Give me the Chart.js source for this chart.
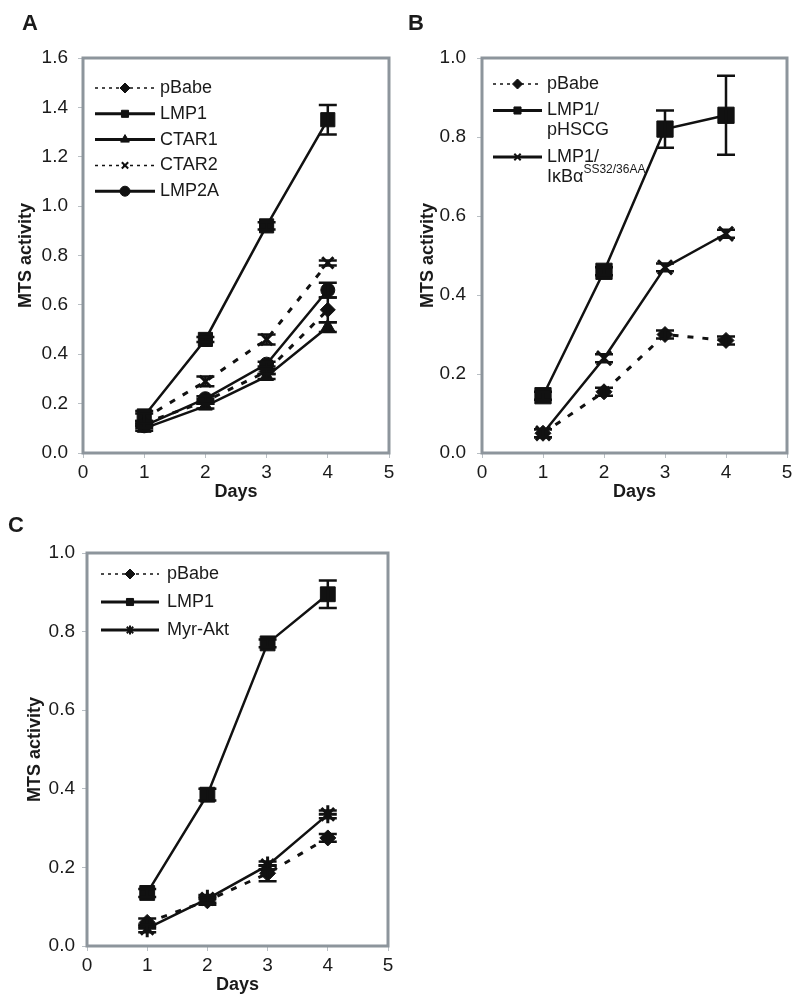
<!DOCTYPE html>
<html lang="en">
<head>
<meta charset="UTF-8">
<title>MTS activity</title>
<style>
  body { margin: 0; background: #fff; width: 800px; height: 1003px; position: relative; overflow: hidden; }
  .panel { position: absolute; }
  .letter { position: absolute; font: bold 22px "Liberation Sans", Arial, sans-serif; line-height: 22px; color: #1a1a1a; }
</style>
</head>
<body>
<div class="panel" style="left:0;top:0;width:400px;height:503px"><canvas id="chartA"></canvas></div>
<div class="panel" style="left:400px;top:0;width:400px;height:503px"><canvas id="chartB"></canvas></div>
<div class="panel" style="left:0;top:500px;width:400px;height:503px"><canvas id="chartC"></canvas></div>
<div class="letter" style="left:22px;top:12px">A</div>
<div class="letter" style="left:408px;top:12px">B</div>
<div class="letter" style="left:8px;top:514px">C</div>

<script src="https://cdn.jsdelivr.net/npm/chart.js"></script>
<script>
    const days = [1, 2, 3, 4];

    // panel A
    const aPBabe = [0.12, 0.21, 0.33, 0.58];
    const aPBabeErr = [0.01, 0.01, 0.01, 0.05];
    const aLMP1 = [0.15, 0.46, 0.92, 1.35];
    const aLMP1Err = [0.02, 0.01, 0.015, 0.06];
    const aCTAR1 = [0.10, 0.19, 0.31, 0.51];
    const aCTAR1Err = [0.01, 0.01, 0.01, 0.02];
    const aCTAR2 = [0.14, 0.29, 0.46, 0.77];
    const aCTAR2Err = [0.02, 0.02, 0.02, 0.01];
    const aLMP2A = [0.11, 0.22, 0.36, 0.66];
    const aLMP2AErr = [0.01, 0.01, 0.01, 0.03];

    // panel B
    const bPBabe = [0.05, 0.155, 0.30, 0.285];
    const bPBabeErr = [0.01, 0.01, 0.01, 0.01];
    const bHSCG = [0.145, 0.46, 0.82, 0.855];
    const bHSCGErr = [0.01, 0.01, 0.047, 0.10];
    const bIkB = [0.05, 0.24, 0.47, 0.555];
    const bIkBErr = [0.01, 0.01, 0.01, 0.01];

    // panel C
    const cPBabe = [0.06, 0.115, 0.185, 0.275];
    const cPBabeErr = [0.01, 0.01, 0.02, 0.01];
    const cLMP1 = [0.135, 0.385, 0.77, 0.895];
    const cLMP1Err = [0.01, 0.015, 0.01, 0.035];
    const cAkt = [0.045, 0.12, 0.205, 0.335];
    const cAktErr = [0.01, 0.01, 0.01, 0.01];

    const INK = '#111';
    const TEXT = '#1a1a1a';
    Chart.defaults.font.family = '"Liberation Sans", Arial, sans-serif';
    Chart.defaults.color = TEXT;

    function isCross(style) {
        return style === 'crossRot' || style === 'star';
    }

    function series(label, values, errors, style, radius, dotted) {
        return {
            label: label,
            data: values.map((v, i) => ({x: days[i], y: v})),
            errors: errors,
            borderColor: INK,
            borderWidth: dotted ? 3 : 2.5,
            borderDash: dotted ? [6, 9] : [],
            dotted: dotted,
            tension: 0,
            pointStyle: style,
            pointRadius: radius,
            pointHoverRadius: radius,
            pointBackgroundColor: INK,
            pointBorderColor: INK,
            pointBorderWidth: isCross(style) ? 3 : 1
        };
    }

    // grey box round the plot area
    const frame = {
        id: 'frame',
        beforeDatasetsDraw(chart) {
            const {ctx, chartArea: a} = chart;
            ctx.save();
            ctx.strokeStyle = '#8d959c';
            ctx.lineWidth = 3;
            ctx.strokeRect(a.left, a.top, a.right - a.left, a.bottom - a.top);
            ctx.restore();
        }
    };

    const errorBars = {
        id: 'errorBars',
        afterDatasetsDraw(chart) {
            const {ctx, scales: {x, y}} = chart;
            ctx.save();
            ctx.strokeStyle = INK;
            ctx.lineWidth = 2.5;
            chart.data.datasets.forEach(ds => {
                ds.data.forEach((p, i) => {
                    const e = ds.errors[i];
                    const px = x.getPixelForValue(p.x);
                    const top = y.getPixelForValue(p.y + e);
                    const bot = y.getPixelForValue(p.y - e);
                    ctx.beginPath();
                    ctx.moveTo(px, top); ctx.lineTo(px, bot);
                    ctx.moveTo(px - 9, top); ctx.lineTo(px + 9, top);
                    ctx.moveTo(px - 9, bot); ctx.lineTo(px + 9, bot);
                    ctx.stroke();
                });
            });
            ctx.restore();
        }
    };

    // legend inside the plot, line sample with the marker in the middle
    const innerLegend = {
        id: 'innerLegend',
        afterDraw(chart, args, opts) {
            const ctx = chart.ctx;
            const x0 = chart.chartArea.left + opts.dx;
            let y = chart.chartArea.top + opts.dy;
            ctx.save();
            chart.data.datasets.forEach(ds => {
                ctx.strokeStyle = INK;
                ctx.fillStyle = INK;
                ctx.lineWidth = ds.dotted ? 1.5 : 3;
                ctx.setLineDash(ds.dotted ? [3, 4] : []);
                ctx.beginPath();
                ctx.moveTo(x0, y);
                ctx.lineTo(x0 + opts.sample, y);
                ctx.stroke();
                ctx.setLineDash([]);
                const bw = isCross(ds.pointStyle) ? 2 : 1;
                ctx.lineWidth = bw;
                Chart.helpers.drawPoint(ctx, {pointStyle: ds.pointStyle, radius: isCross(ds.pointStyle) ? 4.5 : opts.marker, borderWidth: bw, rotation: 0}, x0 + opts.sample / 2, y);

                const lines = Array.isArray(ds.label) ? ds.label : [ds.label];
                ctx.fillStyle = TEXT;
                ctx.textBaseline = 'middle';
                lines.forEach((line, k) => {
                    const ly = y + k * opts.lineStep;
                    const [base, sup] = line.split('^');
                    ctx.font = '18px "Liberation Sans", Arial, sans-serif';
                    ctx.fillText(base, x0 + opts.sample + opts.gap, ly);
                    if (sup) {
                        const w = ctx.measureText(base).width;
                        ctx.font = '12px "Liberation Sans", Arial, sans-serif';
                        ctx.fillText(sup, x0 + opts.sample + opts.gap + w, ly - 7);
                    }
                });
                y += (lines.length - 1) * opts.lineStep + opts.rowStep;
            });
            ctx.restore();
        }
    };

    function scalesFor(ymax, yWidth, xHeight, tickPad, yTitlePad, xTitlePad) {
        return {
            x: {
                type: 'linear', min: 0, max: 5,
                ticks: {stepSize: 1, font: {size: 19}, padding: 3, color: TEXT},
                grid: {drawOnChartArea: false, tickLength: 5, color: '#b9bfc4'},
                border: {display: false},
                title: {display: true, text: 'Days', font: {size: 18, weight: 'bold'}, color: TEXT, padding: {top: 0, bottom: xTitlePad}},
                afterFit(s) { s.height = xHeight; }
            },
            y: {
                min: 0, max: ymax,
                ticks: {stepSize: 0.2, font: {size: 19}, padding: tickPad, color: TEXT, callback: v => v.toFixed(1)},
                grid: {drawOnChartArea: false, tickLength: 5, color: '#b9bfc4'},
                border: {display: false},
                title: {display: true, text: 'MTS activity', font: {size: 18, weight: 'bold'}, color: TEXT, padding: {top: yTitlePad, bottom: 0}},
                afterFit(s) { s.width = yWidth; }
            }
        };
    }

    function panel(id, datasets, opts) {
        return new Chart(document.getElementById(id), {
            type: 'line',
            data: {datasets: datasets},
            options: {
                responsive: true,
                maintainAspectRatio: false,
                animation: false,
                layout: {padding: opts.padding},
                scales: scalesFor(opts.ymax, opts.yWidth, opts.xHeight, opts.tickPad, opts.yTitlePad, opts.xTitlePad),
                plugins: {
                    legend: {display: false},
                    tooltip: {enabled: false},
                    innerLegend: opts.legend
                }
            },
            plugins: [frame, errorBars, innerLegend]
        });
    }

    panel('chartA', [
        series('pBabe', aPBabe, aPBabeErr, 'rectRot', 7.5, true),
        series('LMP1', aLMP1, aLMP1Err, 'rect', 10, false),
        series('CTAR1', aCTAR1, aCTAR1Err, 'triangle', 8, false),
        series('CTAR2', aCTAR2, aCTAR2Err, 'crossRot', 8, true),
        series('LMP2A', aLMP2A, aLMP2AErr, 'circle', 7, false)
    ], {
        ymax: 1.6, yWidth: 70, xHeight: 50, tickPad: 10, yTitlePad: 2, xTitlePad: 0,
        padding: {left: 13, right: 11, top: 58, bottom: 0},
        legend: {dx: 12, dy: 30, sample: 60, gap: 5, marker: 5, rowStep: 25.8, lineStep: 20}
    });

    panel('chartB', [
        series('pBabe', bPBabe, bPBabeErr, 'rectRot', 8, true),
        series(['LMP1/', 'pHSCG'], bHSCG, bHSCGErr, 'rect', 11.5, false),
        series(['LMP1/', 'I\u03baB\u03b1^SS32/36AA'], bIkB, bIkBErr, 'crossRot', 10, false)
    ], {
        ymax: 1.0, yWidth: 67, xHeight: 50, tickPad: 11, yTitlePad: 2, xTitlePad: 0,
        padding: {left: 15, right: 13, top: 58, bottom: 0},
        legend: {dx: 11, dy: 26, sample: 49, gap: 5, marker: 5, rowStep: 26.5, lineStep: 20}
    });

    panel('chartC', [
        series('pBabe', cPBabe, cPBabeErr, 'rectRot', 8, true),
        series('LMP1', cLMP1, cLMP1Err, 'rect', 10.5, false),
        series('Myr-Akt', cAkt, cAktErr, 'star', 9, false)
    ], {
        ymax: 1.0, yWidth: 65, xHeight: 57, tickPad: 7, yTitlePad: 2, xTitlePad: 7,
        padding: {left: 22, right: 8, top: 53, bottom: 0},
        legend: {dx: 14, dy: 21, sample: 58, gap: 8, marker: 5, rowStep: 28, lineStep: 20}
    });
</script>
</body>
</html>
